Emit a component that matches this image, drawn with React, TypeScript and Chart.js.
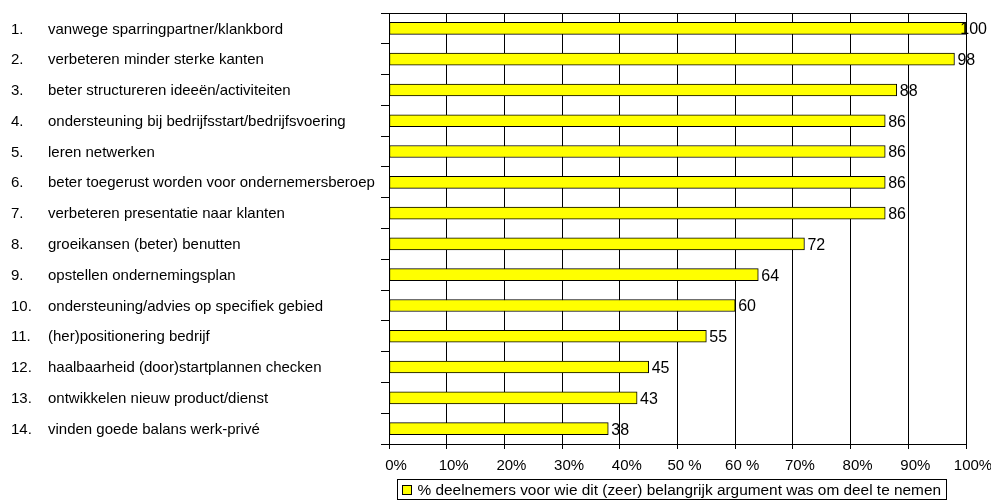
import React, { useEffect, useRef } from "react";
import { Chart, registerables } from "chart.js";

Chart.register(...registerables);

const categoryNumbers = ["1.", "2.", "3.", "4.", "5.", "6.", "7.", "8.", "9.", "10.", "11.", "12.", "13.", "14."];
const categories = [
  "vanwege sparringpartner/klankbord",
  "verbeteren minder sterke kanten",
  "beter structureren ideeën/activiteiten",
  "ondersteuning bij bedrijfsstart/bedrijfsvoering",
  "leren netwerken",
  "beter toegerust worden voor ondernemersberoep",
  "verbeteren presentatie naar klanten",
  "groeikansen (beter) benutten",
  "opstellen ondernemingsplan",
  "ondersteuning/advies op specifiek gebied",
  "(her)positionering bedrijf",
  "haalbaarheid (door)startplannen checken",
  "ontwikkelen nieuw product/dienst",
  "vinden goede balans werk-privé",
];
const values = [100, 98, 88, 86, 86, 86, 86, 72, 64, 60, 55, 45, 43, 38];
const tickLabels = ["0%", "10%", "20%", "30%", "40%", "50 %", "60 %", "70%", "80%", "90%", "100%"];
const seriesLabel = "% deelnemers voor wie dit (zeer) belangrijk argument was om deel te nemen";

const FONT = "'Liberation Sans', Arial, sans-serif";

const decorPlugin = {
  id: "decor",
  afterDatasetsDraw(chart: any) {
    const ctx = chart.ctx;
    const ca = chart.chartArea;
    const yScale = chart.scales.y;
    ctx.save();
    // top border of plot area
    ctx.strokeStyle = "#000";
    ctx.lineWidth = 1;
    ctx.beginPath();
    ctx.moveTo(ca.left, Math.round(ca.top) + 0.5);
    ctx.lineTo(ca.right, Math.round(ca.top) + 0.5);
    ctx.stroke();

    // category labels
    ctx.fillStyle = "#000";
    ctx.font = `15px ${FONT}`;
    ctx.textBaseline = "middle";
    ctx.textAlign = "left";
    categories.forEach((c, i) => {
      const y = yScale.getPixelForValue(i) + 1;
      ctx.fillText(categoryNumbers[i], 11, y);
      ctx.fillText(c, 48, y);
    });

    // value labels
    const meta = chart.getDatasetMeta(0);
    ctx.font = `16px ${FONT}`;
    meta.data.forEach((bar: any, i: number) => {
      const txt = String(values[i]);
      const w = ctx.measureText(txt).width;
      const x = Math.min(bar.x + 3, chart.width - w - 4);
      ctx.fillText(txt, x, bar.y + 1.5);
    });

    // legend (boxed, below the axis)
    const ds = chart.data.datasets[0];
    ctx.font = `15.4px ${FONT}`;
    const left = Math.round(ca.left + 8) + 0.5;
    const top = Math.round(ca.bottom + 35) + 0.5;
    const textX = left + 20;
    const tw = ctx.measureText(ds.label).width;
    const right = Math.round(textX + tw + 5) + 0.5;
    const h = 20;
    ctx.strokeStyle = "#000";
    ctx.strokeRect(left, top, right - left, h);
    ctx.fillStyle = ds.backgroundColor;
    ctx.fillRect(left + 5, top + 6, 9, 9);
    ctx.strokeRect(left + 5, top + 6, 9, 9);
    ctx.fillStyle = "#000";
    ctx.fillText(ds.label, textX, top + h / 2 + 1);
    ctx.restore();
  },
};

export default function App() {
  const ref = useRef<HTMLCanvasElement>(null);
  useEffect(() => {
    if (!ref.current) return;
    const chart = new Chart(ref.current, {
      type: "bar",
      data: {
        labels: categories,
        datasets: [
          {
            label: seriesLabel,
            data: values,
            backgroundColor: "#FFFF00",
            borderColor: "#000",
            borderWidth: 1,
            borderSkipped: false,
            barThickness: 12,
          },
        ],
      },
      options: {
        indexAxis: "y",
        animation: false,
        responsive: false,
        events: [],
        layout: { padding: { left: 381, right: 25, top: 13, bottom: 21 } },
        scales: {
          x: {
            min: 0,
            max: 100,
            afterFit: (scale: any) => {
              scale.paddingRight = 0;
              scale.paddingLeft = 0;
            },
            ticks: {
              stepSize: 10,
              color: "#000",
              font: { family: FONT, size: 15 },
              padding: 8,
              labelOffset: 7,
              callback: (_v: any, i: number) => tickLabels[i],
            },
            grid: { color: "#000", lineWidth: 1, tickLength: 5, tickColor: "#000" },
            border: { color: "#000", width: 1 },
          },
          y: {
            ticks: { display: false },
            grid: { drawOnChartArea: false, tickLength: 8, color: "#000", offset: true },
            border: { color: "#000", width: 1 },
          },
        },
        plugins: {
          tooltip: { enabled: false },
          legend: { display: false },
        },
      },
      plugins: [decorPlugin],
    });
    return () => chart.destroy();
  }, []);
  return (
    <div style={{ position: "absolute", left: 0, top: 0, width: 991, height: 504 }}>
      <canvas ref={ref} width={991} height={504} />
    </div>
  );
}
